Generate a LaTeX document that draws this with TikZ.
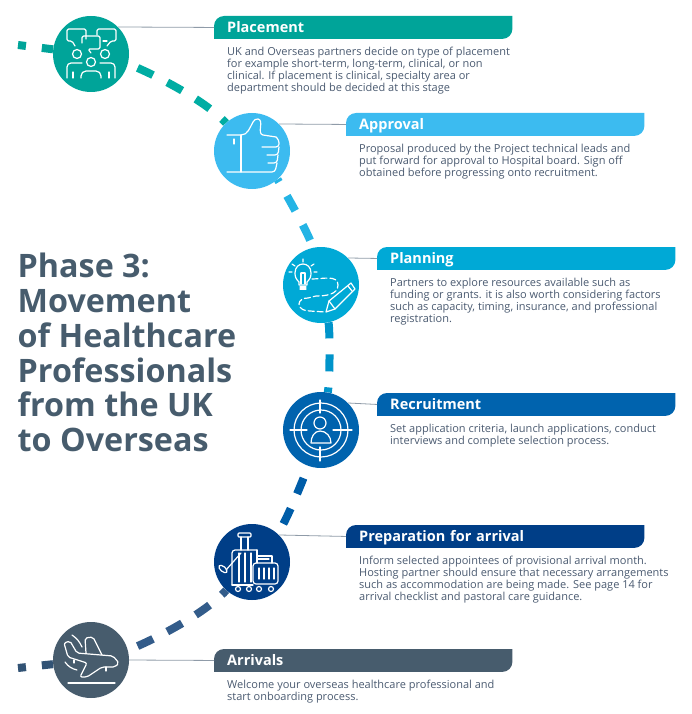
\documentclass[tikz,border=0pt]{standalone}
\usepackage{fontspec}
\setmainfont{Open Sans}
\usetikzlibrary{positioning,backgrounds}
\definecolor{placecol}{HTML}{00A499}
\definecolor{approvecol}{HTML}{3CBBF0}
\definecolor{plancol}{HTML}{00A9D6}
\definecolor{recruitcol}{HTML}{0063AE}
\definecolor{prepcol}{HTML}{003E87}
\definecolor{arrivecol}{HTML}{475C6D}
\definecolor{textcol}{HTML}{4A5A70}
\definecolor{linkcol}{HTML}{8F9BA8}
\tikzset{
  stage/.style={circle,minimum size=76pt,inner sep=0pt},
  bar/.style={minimum height=22.5pt,text width=272pt,inner xsep=13pt,inner ysep=0pt,align=left,
    text=white,text height=12pt,text depth=2pt,font=\fontsize{14.5}{16}\selectfont\bfseries},
  body/.style={inner sep=0pt,align=left,text=textcol,font=\fontsize{11}{12.1}\selectfont},
  trail/.style={line width=8pt,dash pattern=on 17pt off 16pt},
  stub/.style={line width=8pt,dash pattern=on 8pt off 16pt on 80pt},
  link/.style={draw=linkcol,line width=0.8pt},
  icon/.style={draw=white,line width=1.2pt,line join=round,line cap=round}
}
\begin{document}
\begin{tikzpicture}[x=1pt,y=-1pt]
  \useasboundingbox (0,0) rectangle (692,714);
  % stages
  \node[stage,fill=placecol] (place) at (91,54) {};
  \node[stage,fill=approvecol] (approve) at (252,151) {};
  \node[stage,fill=plancol] (plan) at (321,285) {};
  \node[stage,fill=recruitcol] (recruit) at (321,430) {};
  \node[stage,fill=prepcol] (prep) at (252,562) {};
  \node[stage,fill=arrivecol] (arrive) at (91,660) {};
  \coordinate (startin) at (18,45);
  \coordinate (endout) at (18,668);
  % banners
  \node[bar,anchor=north west] (placebar) at (214,16) {Placement};
  \node[bar,anchor=north west] (approvebar) at (346,113) {Approval};
  \node[bar,anchor=north west] (planbar) at (377,247) {Planning};
  \node[bar,anchor=north west] (recruitbar) at (377,393) {Recruitment};
  \node[bar,anchor=north west] (prepbar) at (346,525) {Preparation for arrival};
  \node[bar,anchor=north west] (arrivebar) at (214,649) {Arrivals};
  % texts
  \node[body,below right=8pt and 13pt of placebar.south west] (placetext) {UK and Overseas partners decide on type of placement\\for example short-term, long-term, clinical, or non\\clinical. If placement is clinical, specialty area or\\department should be decided at this stage};
  \node[body,below right=8pt and 13pt of approvebar.south west] (approvetext) {Proposal produced by the Project technical leads and\\put forward for approval to Hospital board. Sign off\\obtained before progressing onto recruitment.};
  \node[body,below right=8pt and 13pt of planbar.south west] (plantext) {Partners to explore resources available such as\\funding or grants. it is also worth considering factors\\such as capacity, timing, insurance, and professional\\registration.};
  \node[body,below right=8pt and 13pt of recruitbar.south west] (recruittext) {Set application criteria, launch applications, conduct\\interviews and complete selection process.};
  \node[body,below right=8pt and 13pt of prepbar.south west] (preptext) {Inform selected appointees of provisional arrival month.\\Hosting partner should ensure that necessary arrangements\\such as accommodation are being made. See page 14 for\\arrival checklist and pastoral care guidance.};
  \node[body,below right=8pt and 13pt of arrivebar.south west] (arrivetext) {Welcome your overseas healthcare professional and\\start onboarding process.};
  \node[anchor=north west,inner sep=0pt,align=left,text=arrivecol,
    font=\fontsize{32.3}{34.8}\selectfont\bfseries] (title) at (17.5,253)
    {Phase 3:\\Movement\\of Healthcare\\Professionals\\from the UK\\to Overseas};
  \begin{scope}[on background layer]
    \foreach \name/\col in {placebar/placecol,approvebar/approvecol,planbar/plancol,recruitbar/recruitcol,prepbar/prepcol,arrivebar/arrivecol}
      \fill[\col] (\name.south west) [rounded corners=10pt] -- (\name.north west) [sharp corners] -- (\name.north east) [rounded corners=10pt] -- (\name.south east) [sharp corners] -- cycle;
    \draw[stub,placecol] (startin) to (place);
    \draw[trail,dash phase=22.5pt,placecol!90!cyan] (place) .. controls (135,66) and (200,95) .. (approve);
    \draw[trail,dash phase=14pt,approvecol!60!plancol] (approve) .. controls (278,180) and (310,235) .. (plan);
    \draw[trail,dash phase=1pt,plancol!70!recruitcol] (plan) .. controls (330,330) and (330,380) .. (recruit);
    \draw[trail,dash phase=20pt,recruitcol!85!prepcol] (recruit) .. controls (305,475) and (285,525) .. (prep);
    \draw[trail,dash phase=22.5pt,arrivecol!40!prepcol!90!white] (arrive) .. controls (135,648) and (200,619) .. (prep);
    \draw[stub,arrivecol!70!prepcol] (endout) to (arrive);
  \end{scope}
  % leader lines
  \draw[link] (place.45) to (placebar.west);
  \draw[link] (approve.45) to (approvebar.west);
  \draw[link] (plan.45) to (planbar.west);
  \draw[link] (recruit.45) to (recruitbar.west);
  \draw[link] (prep.45) to (prepbar.west);
  \draw[link] (arrive.0) to (arrivebar.west);
  % placement icon
  \begin{scope}[icon]
    \draw[rounded corners=1.5pt] (75,46) -- (72,41) -- (67,41) -- (67,29) -- (86,29) -- (86,39);
    \draw[rounded corners=1.5pt] (97,35) -- (97,29) -- (116,29) -- (116,41) -- (111,41) -- (107,46);
    \draw (103,41) -- (107,41);
    \draw[rounded corners=1.5pt] (82,43) -- (82,36) -- (100,36) -- (100,49) -- (88,49) -- (91,53);
    \draw (77,54) circle[radius=4.5pt];
    \draw (105,54) circle[radius=4.5pt];
    \draw (91,62) circle[radius=4.5pt];
    \draw[rounded corners=4pt] (67,78) -- (67,63) -- (82,63);
    \draw[rounded corners=4pt] (115,78) -- (115,63) -- (100,63);
    \draw[rounded corners=5pt] (81,78) -- (81,71) -- (101,71) -- (101,78);
    \draw (73,72) -- (73,78);
    \draw (109,72) -- (109,78);
  \end{scope}
  % approval icon
  \begin{scope}[icon]
    \draw (227,135) -- (241,135) to[out=0,in=240] (253,122) to[out=60,in=170] (258,119) to[out=-10,in=170] (263,135) -- (276,137);
    \draw[rounded corners=3pt] (276,137) -- (279,140) -- (279,147) -- (262,147);
    \draw[rounded corners=3pt] (279,147) -- (278,155) -- (267,155);
    \draw[rounded corners=3pt] (278,155) -- (277,163) -- (268,163);
    \draw[rounded corners=3pt] (277,163) -- (275,172) -- (241,172) -- (227,172);
    \draw (241,135) -- (241,172);
    \draw (234,139) -- (234,144);
  \end{scope}
  % planning icon
  \begin{scope}[icon]
    \draw (299,285) -- (299,282) .. controls (296,279) and (295,277) .. (295,273) .. controls (295,261) and (311,261) .. (311,273) .. controls (311,277) and (310,279) .. (307,282) -- (307,285) -- cycle;
    \draw (300,287) -- (306,287) (300,289) -- (306,289);
    \draw (301,284) -- (301,273) (305,284) -- (305,273) (301,273) -- (305,273);
    \draw (292,264) -- (295,266) (303,259) -- (303,262) (314,264) -- (311,266) (289,272) -- (292,272) (314,272) -- (317,272);
    \draw[dash pattern=on 6pt off 3pt] (312,279) to[out=0,in=90] (338,285) to[out=-90,in=0] (316,296) -- (308,298) to[out=180,in=90] (299,304) to[out=-90,in=180] (310,311) -- (325,312);
    \draw (326,312) -- (329,301) -- (351,283) -- (355,289) -- (335,309) -- cycle;
    \draw (329,301) -- (335,309) (348,286) -- (352,291);
  \end{scope}
  % recruitment icon
  \begin{scope}[icon]
    \draw (321,430) circle[radius=27pt];
    \draw (321,430) circle[radius=20pt];
    \draw (290,430) -- (307,430) (333,430) -- (352,430);
    \draw (320,400) -- (320,413) (320,447) -- (320,461);
    \draw (320,423) circle[radius=6pt];
    \draw (311,443) to[out=90,in=180] (320,431) to[out=0,in=90] (331,443) -- cycle;
  \end{scope}
  % luggage icon
  \begin{scope}[icon]
    \draw[rounded corners=3pt] (232,585) -- (232,550) -- (257,550);
    \draw[rounded corners=3pt] (232,585) -- (253,585);
    \draw (257,550) -- (257,562);
    \draw (241,550) -- (241,537) (248,550) -- (248,537);
    \draw[rounded corners=1pt] (238,537) -- (238,533) -- (251,533) -- (251,537) -- cycle;
    \draw (239,553) -- (239,582) (245,553) -- (245,582) (251,553) -- (251,582);
    \draw[rounded corners=3pt] (253,563) rectangle (278,584);
    \draw (257,563) -- (257,556) -- (272,556) -- (272,563) (257,559) -- (269,559);
    \draw (259,568) -- (259,579) (264,568) -- (264,579) (269,568) -- (269,579) (274,568) -- (274,579);
    \draw (241,553) -- (226,570);
    \draw[rotate around={-40:(223,569)}] (223,569) ellipse[x radius=5pt,y radius=2.5pt];
    \foreach \wx in {238,249,259,271}
      \draw (\wx,589) circle[radius=2.5pt];
  \end{scope}
  % plane icon
  \begin{scope}[icon]
    \draw[rounded corners=2pt] (64,643) -- (70,641) -- (77,653) -- (113,656) -- (119,663) -- (115,667) -- (102,667) -- (87,677) -- (80,677) -- (87,663) -- (68,657) -- cycle;
    \draw[rounded corners=2pt] (86,653) -- (85,638) -- (93,637) -- (102,655);
    \draw (72,635) to[bend left=15] (82,647);
    \draw (65,662) to[bend right=20] (77,670);
    \draw (74,660) -- (74,663) (106,667) -- (106,671);
    \draw (68,683) -- (115,683);
  \end{scope}
\end{tikzpicture}
\end{document}
